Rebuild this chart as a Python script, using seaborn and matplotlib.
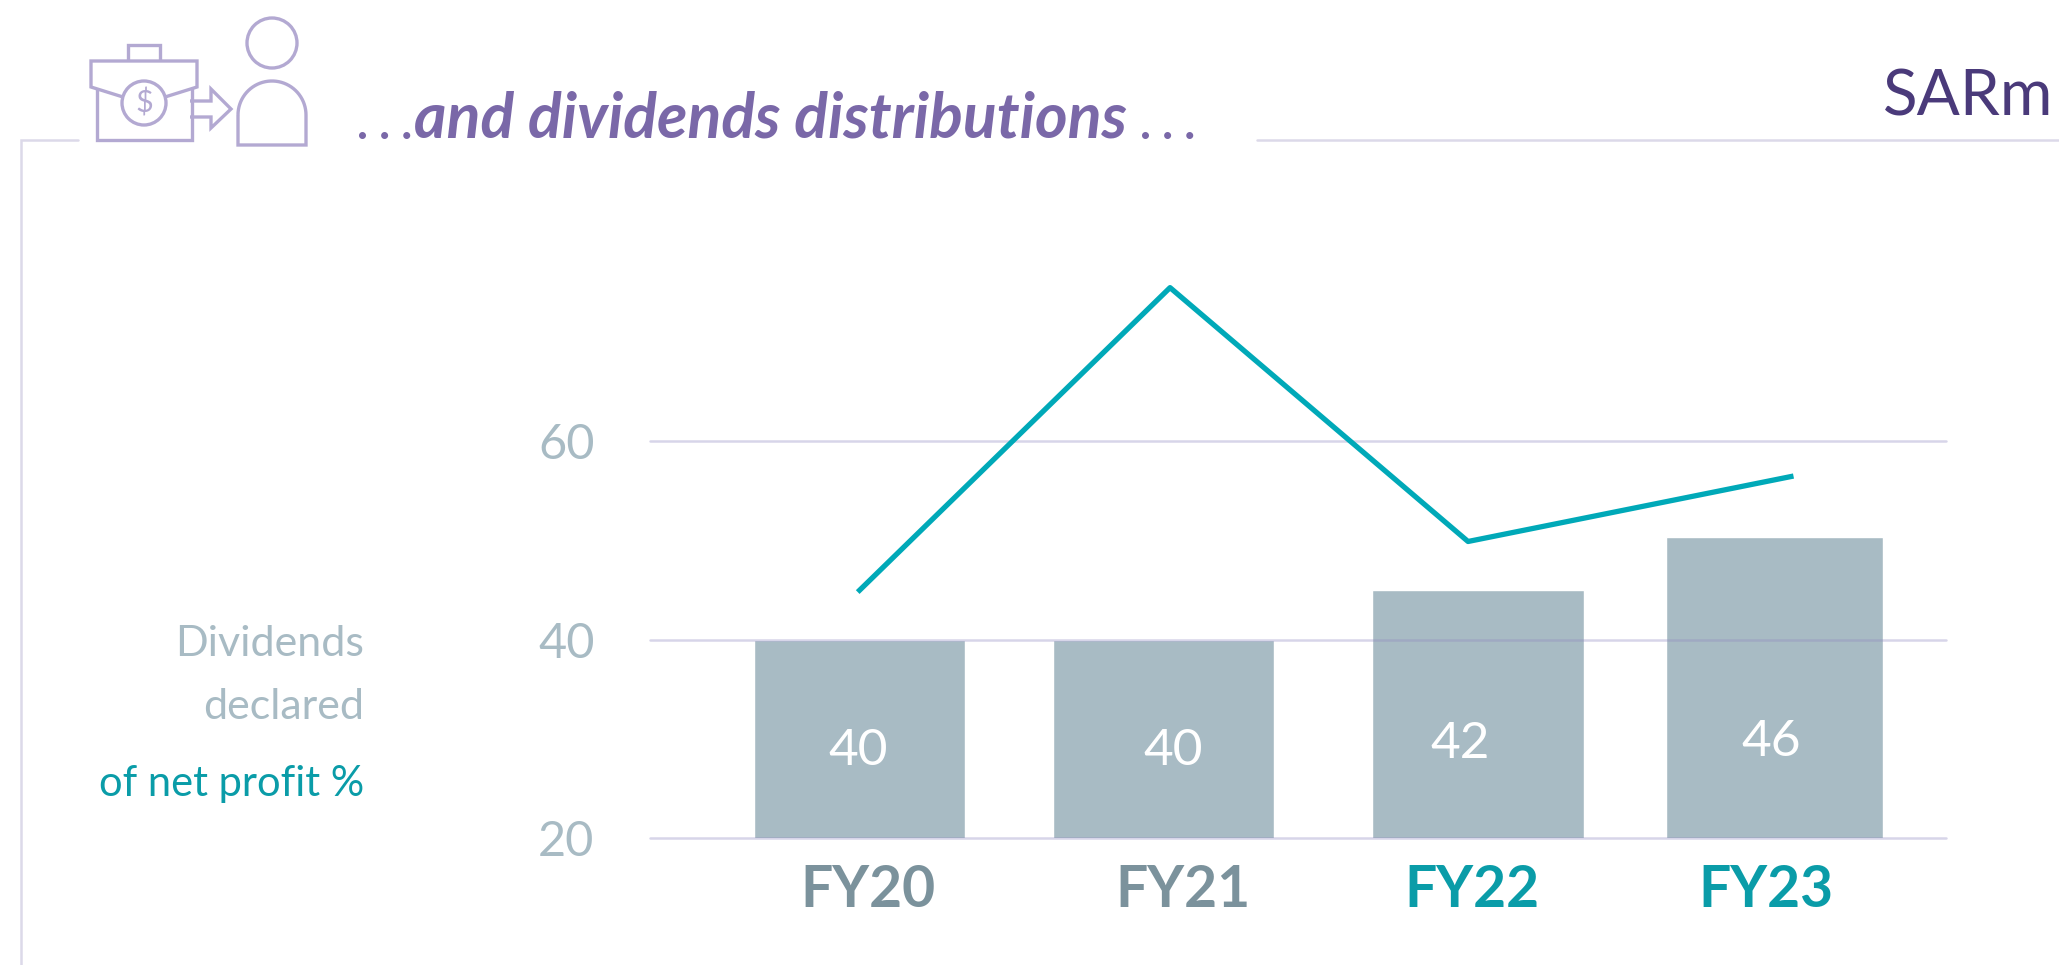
import numpy as np
import pandas as pd
import matplotlib.pyplot as plt
import seaborn as sns
from matplotlib.patches import Circle, PathPatch
from matplotlib.path import Path

# Values
years = ["FY20", "FY21", "FY22", "FY23"]
declared_bars = [40, 40, 45, 50.4]
bar_labels = ["40", "40", "42", "46"]
net_profit_pct = [44.8, 75.5, 49.9, 56.5]
y_ticks = [20, 40, 60]

# Colours
PURPLE = "#7a68a8"
ICON = "#b3a9d2"
FRAME = "#dcd9e9"
BAR = "#a8bbc4"
TEAL = "#00a9b8"
TEAL_TEXT = "#0a9ca8"
SLATE = "#7b929c"

sns.set_theme(style="white")
plt.rcParams["font.family"] = ["Lato", "Open Sans", "DejaVu Sans"]

W, H = 2059, 965
fig = plt.figure(figsize=(W / 100, H / 100), dpi=100)

# Chart axes: 20 sits at y=838 px, 80 at y=243 px
ax = fig.add_axes([650 / W, 1 - 838 / H, (1946 - 650) / W, (838 - 243) / H])

df = pd.DataFrame({"year": years, "declared": declared_bars, "pct": net_profit_pct})
df["pos"] = np.arange(len(df))

sns.barplot(data=df, x="year", y="declared", color=BAR, saturation=1, width=0.7, ax=ax)
sns.lineplot(data=df, x="pos", y="pct", color=TEAL, linewidth=3.8, ax=ax)

# The slide was laid out by hand, so the marks are not evenly spaced
bar_centres = np.array([0, 0.997, 2.028, 3.0])
bar_widths = [0.693, 0.723, 0.693, 0.71]
line_x = np.array([-0.006, 1.018, 1.995, 3.062])
tick_x = [0.028, 1.06, 2.008, 2.972]
label_x = [-0.006, 1.027, 1.97, 2.99]
label_y = [28.8, 28.8, 29.5, 29.7]

for bar, c, w in zip(ax.patches, bar_centres, bar_widths):
    bar.set_width(w)
    bar.set_x(c - w / 2)
ax.lines[-1].set_xdata(line_x)
ax.lines[-1].set_solid_capstyle("butt")
ax.lines[-1].set_zorder(4)

for x, y, txt in zip(label_x, label_y, bar_labels):
    ax.text(x, y, txt, color="white", fontsize=37, ha="center", va="center", zorder=5)

ax.set_xlim(-0.687, 3.562)
ax.set_ylim(20, 80)
ax.set_yticks(y_ticks)
ax.set_xticks(tick_x)
ax.set_xticklabels(years, fontsize=41, fontweight="bold")
for lab, col in zip(ax.get_xticklabels(), [SLATE, SLATE, TEAL_TEXT, TEAL_TEXT]):
    lab.set_color(col)
ax.tick_params(axis="x", length=0, pad=19)
ax.tick_params(axis="y", length=0, pad=40, labelsize=35, labelcolor=BAR)
ax.set_xlabel("")
ax.set_ylabel("")
sns.despine(ax=ax, left=True, bottom=True)
ax.patch.set_alpha(0)

ax.set_axisbelow(False)
ax.grid(axis="y", color="#8f88c0", alpha=0.35, linewidth=1.8)
for g in ax.get_ygridlines():
    g.set_clip_on(False)
    g.set_zorder(3)

# Overlay in pixel coordinates for the slide furniture
deco = fig.add_axes([0, 0, 1, 1], zorder=-1)
deco.set_xlim(0, W)
deco.set_ylim(H, 0)
deco.axis("off")

deco.plot([78, 21, 21], [140, 140, 965], color=FRAME, lw=1.8, solid_joinstyle="miter")
deco.plot([1257, 2059], [140, 140], color=FRAME, lw=1.8)

icon = dict(color=ICON, lw=2.4, solid_joinstyle="miter", solid_capstyle="butt")
deco.plot([123, 91, 91, 197, 197, 165], [97, 87, 61, 61, 87, 97], **icon)
deco.plot([128, 128, 160, 160], [61, 45, 45, 61], **icon)
deco.plot([97, 97, 192, 192], [88, 140, 140, 88], **icon)
deco.add_patch(Circle((144, 103), 22, fc="white", ec=ICON, lw=2.4, zorder=3))
deco.text(144, 103, r"\$", color=ICON, fontsize=22, ha="center", va="center", zorder=4)
deco.plot([190, 211, 211, 231, 211, 211, 190], [101, 101, 89, 109, 128, 117, 117], **icon)
deco.add_patch(Circle((272, 43), 25, fill=False, ec=ICON, lw=2.4))
t = np.linspace(np.pi, 0, 40)
body = list(zip(272 + 34 * np.cos(t), 115 - 34 * np.sin(t))) + [(306, 145), (238, 145), (238, 115)]
deco.add_patch(PathPatch(Path(body), fill=False, ec=ICON, lw=2.4))

# Heading
deco.text(357, 139, ". . .", color=PURPLE, fontsize=33, fontweight="bold", ha="left", va="baseline")
deco.text(414, 137, "and dividends distributions", color=PURPLE, fontsize=45, fontweight="bold",
          style="italic", ha="left", va="baseline")
deco.text(1140, 139, ". . .", color=PURPLE, fontsize=33, fontweight="bold", ha="left", va="baseline")
deco.text(2053, 115, "SARm", color="#4a3a7a", fontsize=46, ha="right", va="baseline")

# Left side labels
deco.text(364, 656, "Dividends", color=BAR, fontsize=31, ha="right", va="baseline")
deco.text(364, 719, "declared", color=BAR, fontsize=31, ha="right", va="baseline")
deco.text(364, 796, "of net profit %", color=TEAL_TEXT, fontsize=30, ha="right", va="baseline")

fig.savefig("out.png", dpi=100, facecolor="white")
